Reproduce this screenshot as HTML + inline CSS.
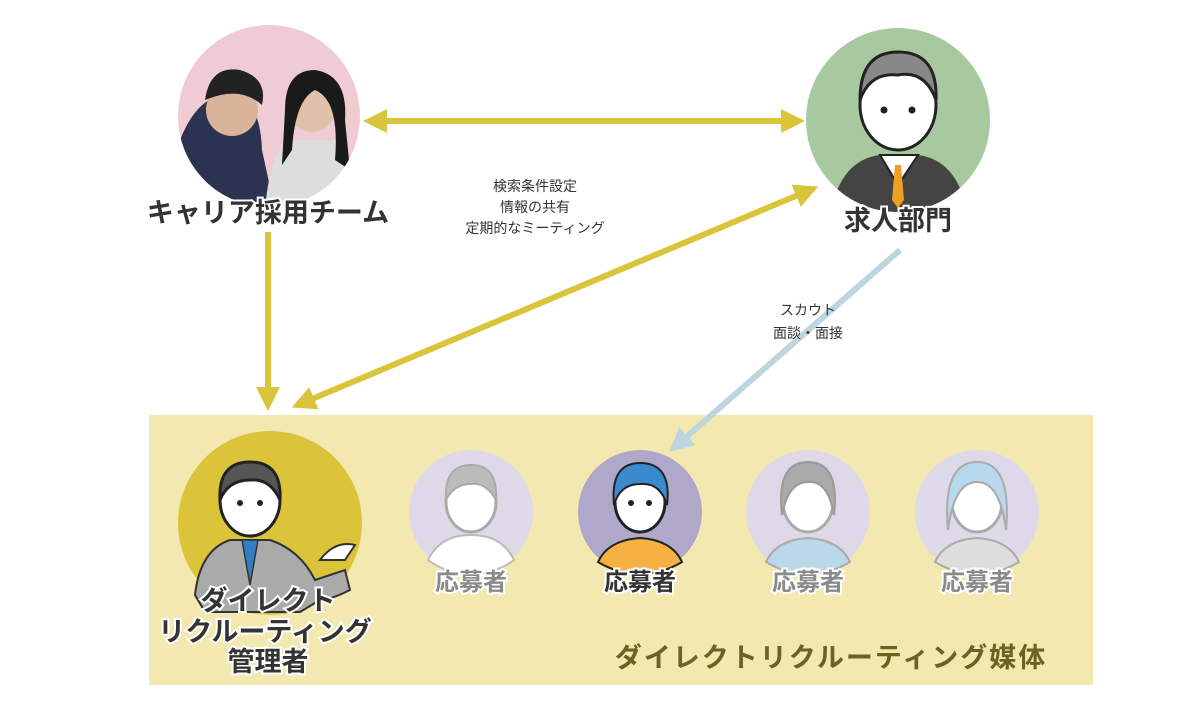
<!DOCTYPE html>
<html><head><meta charset="utf-8"><style>
body{margin:0;width:1200px;height:720px;background:#fff;overflow:hidden;font-family:"Liberation Sans","Noto Sans CJK JP",sans-serif;}
</style></head><body>
<svg width="1200" height="720" viewBox="0 0 1200 720" xmlns="http://www.w3.org/2000/svg" font-family="Liberation Sans, Noto Sans CJK JP, sans-serif">
<defs>
<marker id="ay" markerWidth="4" markerHeight="4" refX="2.5" refY="2" orient="auto-start-reverse" markerUnits="strokeWidth"><path d="M0,0 L4,2 L0,4 z" fill="#d9c43a"/></marker>
<marker id="ab" markerWidth="4" markerHeight="4" refX="2.5" refY="2" orient="auto-start-reverse" markerUnits="strokeWidth"><path d="M0,0 L4,2 L0,4 z" fill="#bcd5de"/></marker>
<clipPath id="c1"><circle cx="269" cy="116" r="91"/></clipPath>
<clipPath id="c2"><circle cx="898" cy="120" r="92"/></clipPath>
</defs>
<rect x="149" y="415" width="944" height="270" fill="#f2e8b0"/>
<circle cx="269" cy="116" r="91" fill="#efcbd3"/>
<g clip-path="url(#c1)">
<path d="M180,140 Q200,90 235,95 Q260,100 262,150 L275,210 L170,210 Z" fill="#2b3350"/>
<circle cx="232" cy="110" r="26" fill="#d9b49a"/>
<path d="M205,100 Q210,65 240,70 Q268,78 262,105 Q240,85 205,100Z" fill="#222"/>
<path d="M265,210 Q270,150 290,140 L340,140 Q355,160 360,210Z" fill="#ddd"/>
<circle cx="312" cy="108" r="24" fill="#e2c1aa"/>
<path d="M285,110 Q285,70 315,70 Q348,75 345,120 L350,170 L335,160 Q340,100 315,90 Q295,100 292,150 L282,165Z" fill="#1a1a1a"/>
</g>
<circle cx="898" cy="120" r="92" fill="#a8c8a0"/>
<g clip-path="url(#c2)">
<path d="M830,215 Q840,160 880,155 L918,155 Q958,160 968,215Z" fill="#444"/>
<path d="M880,155 L898,185 L918,155Z" fill="#fff" stroke="#222" stroke-width="2"/>
<path d="M895,165 L901,165 L904,200 L898,208 L892,200Z" fill="#f0a020"/>
</g>
<ellipse cx="898" cy="105" rx="38" ry="45" fill="#fff" stroke="#222" stroke-width="3"/>
<path d="M860,100 Q860,52 898,52 Q938,52 936,100 Q925,70 898,75 Q870,72 860,100Z" fill="#888" stroke="#222" stroke-width="3"/>
<circle cx="884" cy="110" r="3.5" fill="#222"/><circle cx="912" cy="110" r="3.5" fill="#222"/>
<line x1="372" y1="121" x2="796" y2="121" stroke="#d9c43a" stroke-width="6" marker-start="url(#ay)" marker-end="url(#ay)"/>
<line x1="268" y1="232" x2="268" y2="402" stroke="#d9c43a" stroke-width="6" marker-end="url(#ay)"/>
<line x1="300" y1="404" x2="810" y2="190" stroke="#d9c43a" stroke-width="6" marker-start="url(#ay)" marker-end="url(#ay)"/>
<line x1="900" y1="250" x2="676" y2="446" stroke="#bcd5de" stroke-width="6" marker-end="url(#ab)"/>
<g font-weight="bold" font-size="27" fill="#333" text-anchor="middle" stroke="#fff" stroke-width="4" paint-order="stroke">
<text x="268" y="222">キャリア採用チーム</text>
<text x="898" y="230">求人部門</text>
</g>
<g font-size="14" fill="#333" text-anchor="middle">
<text x="535" y="191">検索条件設定</text>
<text x="535" y="212">情報の共有</text>
<text x="535" y="233">定期的なミーティング</text>
<text x="808" y="315">スカウト</text>
<text x="808" y="338">面談・面接</text>
</g>
<circle cx="270" cy="523" r="92" fill="#dcc43a"/>
<path d="M195,595 Q200,550 230,540 L270,540 Q300,550 315,580 L345,570 L350,590 Q330,600 320,600 L300,612 L205,612Z" fill="#aaa" stroke="#333" stroke-width="2"/>
<path d="M242,540 L250,585 L258,540Z" fill="#2f7fc4" stroke="#333" stroke-width="1.5"/>
<ellipse cx="250" cy="500" rx="30" ry="36" fill="#fff" stroke="#222" stroke-width="3"/>
<path d="M220,500 Q218,462 250,462 Q282,462 280,500 Q270,478 250,480 Q228,480 220,500Z" fill="#555" stroke="#222" stroke-width="3"/>
<circle cx="240" cy="503" r="3" fill="#222"/><circle cx="260" cy="503" r="3" fill="#222"/>
<path d="M320,560 Q335,540 355,545 L345,560Z" fill="#fff" stroke="#333" stroke-width="2"/>
<g>
<circle cx="471" cy="512" r="62" fill="#ddd9e9"/>
<path d="M428,560 Q440,535 471,535 Q502,535 514,560 Q495,574 471,574 Q447,574 428,560Z" fill="#fff" stroke="#bbb" stroke-width="2"/>
<ellipse cx="471" cy="502" rx="25" ry="30" fill="#fff" stroke="#aaa" stroke-width="3"/>
<path d="M446,500 Q444,465 471,465 Q498,465 496,500 Q486,482 471,484 Q454,484 446,500Z" fill="#bbb" stroke="#aaa" stroke-width="2"/>
<circle cx="640" cy="512" r="62" fill="#b0a8c8"/>
<path d="M598,562 Q608,540 640,538 Q672,540 682,562 Q662,574 640,574 Q618,574 598,562Z" fill="#f4b040" stroke="#222" stroke-width="2"/>
<ellipse cx="640" cy="502" rx="25" ry="30" fill="#fff" stroke="#222" stroke-width="3"/>
<path d="M614,505 Q610,463 640,463 Q672,463 667,505 Q660,482 640,484 Q620,484 614,505Z" fill="#3a8ad0" stroke="#222" stroke-width="2"/>
<circle cx="631" cy="503" r="3" fill="#222"/><circle cx="649" cy="503" r="3" fill="#222"/>
<circle cx="808" cy="512" r="62" fill="#ddd9e9"/>
<path d="M766,562 Q776,540 808,538 Q840,540 850,562 Q830,574 808,574 Q786,574 766,562Z" fill="#bcd8e8" stroke="#aaa" stroke-width="2"/>
<ellipse cx="808" cy="502" rx="25" ry="30" fill="#fff" stroke="#aaa" stroke-width="3"/>
<path d="M782,515 Q776,462 808,462 Q840,462 834,515 Q828,480 808,482 Q788,482 782,515Z" fill="#aaa" stroke="#999" stroke-width="2"/>
<circle cx="977" cy="512" r="62" fill="#ddd9e9"/>
<path d="M935,562 Q945,540 977,538 Q1009,540 1019,562 Q999,574 977,574 Q955,574 935,562Z" fill="#ddd" stroke="#aaa" stroke-width="2"/>
<ellipse cx="977" cy="502" rx="25" ry="30" fill="#fff" stroke="#aaa" stroke-width="3"/>
<path d="M948,530 Q942,462 977,462 Q1012,462 1006,530 Q1000,482 977,482 Q954,482 948,530Z" fill="#b8d8ee" stroke="#aaa" stroke-width="2"/>
</g>
<g font-weight="bold" font-size="24" text-anchor="middle" stroke="#fff" stroke-width="4" paint-order="stroke">
<text x="471" y="590" fill="#8a8a8a">応募者</text>
<text x="640" y="590" fill="#333">応募者</text>
<text x="808" y="590" fill="#8a8a8a">応募者</text>
<text x="977" y="590" fill="#8a8a8a">応募者</text>
</g>
<g font-weight="bold" font-size="27" fill="#333" text-anchor="middle" stroke="#fff" stroke-width="4" paint-order="stroke">
<text x="268" y="610">ダイレクト</text>
<text x="265" y="641">リクルーティング</text>
<text x="268" y="671">管理者</text>
</g>
<text x="831" y="667" font-weight="bold" font-size="27" fill="#6b6320" text-anchor="middle" letter-spacing="2">ダイレクトリクルーティング媒体</text>
</svg>
</body></html>
